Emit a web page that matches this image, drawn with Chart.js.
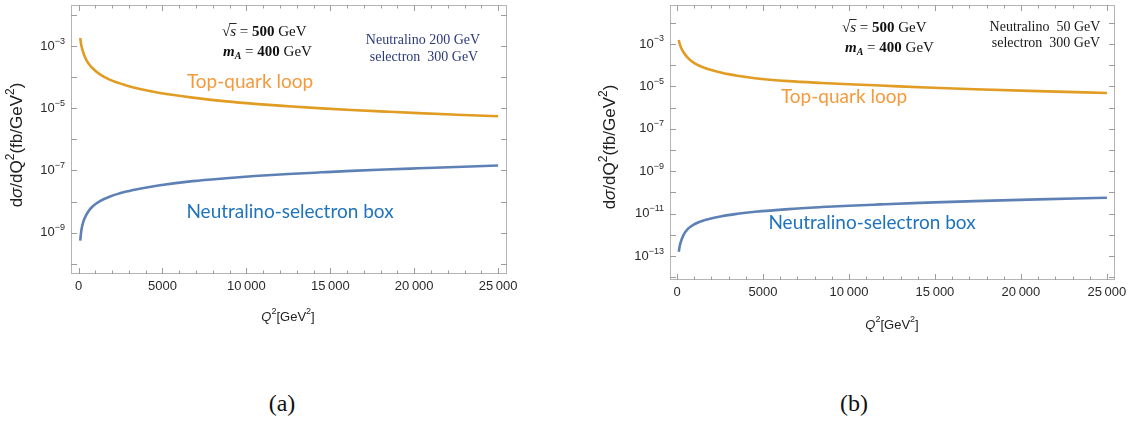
<!DOCTYPE html>
<html>
<head>
<meta charset="utf-8">
<script src="https://cdn.jsdelivr.net/npm/chart.js@4/dist/chart.umd.min.js"></script>
<style>
  body { margin: 0; background: #fff; width: 1137px; height: 421px; position: relative; overflow: hidden; }
  canvas { position: absolute; top: 0; }
  .cap { position: absolute; top: 390px; width: 60px; text-align: center; line-height: 28px;
         font: 24px "Liberation Serif", "Times New Roman", serif; color: #111; }
</style>
</head>
<body>
<canvas id="chartA" width="560" height="345" style="left:0"></canvas>
<canvas id="chartB" width="560" height="345" style="left:577px"></canvas>
<div class="cap" style="left:252px">(a)</div>
<div class="cap" style="left:824px">(b)</div>
<script>
// panel (a): neutralino 200 GeV, selectron 300 GeV
const q2A  = [100, 150, 200, 300, 460, 650, 850, 1300, 1850, 2850, 3800, 4850, 6800, 8800, 10500, 12500, 14500, 16250, 18250, 20250, 22500, 25000];
const topA = [1.82e-3, 1.17e-3, 8.7e-4, 5.75e-4, 3.6e-4, 2.5e-4, 1.9e-4, 1.2e-4, 8.3e-5, 5.4e-5, 4.0e-5, 3.1e-5, 2.2e-5, 1.66e-5, 1.38e-5, 1.16e-5, 9.9e-6, 8.8e-6, 7.8e-6, 6.95e-6, 6.2e-6, 5.5e-6];
const boxA = [5.5e-10, 1.0e-9, 1.48e-9, 2.4e-9, 3.7e-9, 5.4e-9, 7.1e-9, 1.05e-8, 1.43e-8, 2.09e-8, 2.69e-8, 3.35e-8, 4.52e-8, 5.62e-8, 6.6e-8, 7.67e-8, 8.7e-8, 9.66e-8, 1.07e-7, 1.17e-7, 1.29e-7, 1.45e-7];

// panel (b): neutralino 50 GeV, selectron 300 GeV
const q2B  = [100, 150, 200, 366, 657, 1000, 1628, 2599, 3500, 4535, 6471, 8413, 10000, 11800, 14500, 17300, 21000, 25000];
const topB = [1.55e-3, 1.05e-3, 7.9e-4, 4.2e-4, 2.1e-4, 1.26e-4, 7.4e-5, 4.4e-5, 3.2e-5, 2.45e-5, 1.78e-5, 1.45e-5, 1.26e-5, 1.1e-5, 8.9e-6, 7.4e-6, 6.0e-6, 4.9e-6];
const boxB = [1.58e-13, 2.8e-13, 4.2e-13, 9.5e-13, 2.0e-12, 3.16e-12, 5.0e-12, 7.6e-12, 9.8e-12, 1.22e-11, 1.64e-11, 2.04e-11, 2.37e-11, 2.72e-11, 3.3e-11, 3.9e-11, 4.7e-11, 5.6e-11];

// tick labels
const xTicks      = [0, 5000, 10000, 15000, 20000, 25000];
const xTickLabels = ['0', '5000', '10\u2009000', '15\u2009000', '20\u2009000', '25\u2009000'];
const yExpA = [-9, -7, -5, -3];
const yExpB = [-13, -11, -9, -7, -5, -3];

const SANS  = '"Liberation Sans", Arial, sans-serif';
const SERIF = '"Liberation Serif", "Times New Roman", serif';
const CAL   = 'Lato, "Open Sans", sans-serif';

// draw a run of text pieces with different fonts, baseline middle
function drawParts(ctx, parts, x, y, align, color) {
  let w = 0;
  parts.forEach(p => { ctx.font = p.f; p.w = ctx.measureText(p.t).width; w += p.w; });
  let cx = align === 'center' ? x - w / 2 : align === 'right' ? x - w : x;
  ctx.textBaseline = 'middle';
  ctx.textAlign = 'left';
  parts.forEach(p => {
    ctx.font = p.f;
    ctx.fillStyle = p.c || color;
    ctx.fillText(p.t, cx, y + (p.dy || 0));
    if (p.bar) {
      ctx.strokeStyle = p.c || color;
      ctx.lineWidth = 0.9;
      ctx.beginPath();
      ctx.moveTo(cx - 1, y - 8.5);
      ctx.lineTo(cx + p.w + 0.5, y - 8.5);
      ctx.stroke();
    }
    cx += p.w;
  });
}

function sqrtS(size) {
  return [
    { t: '\u221a', f: `${size}px ${SERIF}` },
    { t: 's', f: `italic ${size}px ${SERIF}`, bar: true },
    { t: ' = ', f: `${size}px ${SERIF}` },
    { t: '500', f: `bold ${size}px ${SERIF}` },
    { t: ' GeV', f: `${size}px ${SERIF}` },
  ];
}
function massA(size) {
  return [
    { t: 'm', f: `bold italic ${size}px ${SERIF}` },
    { t: 'A', f: `bold italic ${size - 5}px ${SERIF}`, dy: 4 },
    { t: ' = ', f: `${size}px ${SERIF}` },
    { t: '400', f: `bold ${size}px ${SERIF}` },
    { t: ' GeV', f: `${size}px ${SERIF}` },
  ];
}

function panelPlugin(o) {
  return {
    id: 'panel',
    afterDatasetsDraw(chart) {
      const { ctx, chartArea: a, scales: { x, y } } = chart;
      ctx.save();
      // frame
      ctx.strokeStyle = '#b5b5b5';
      ctx.lineWidth = 1;
      ctx.strokeRect(a.left + 0.5, a.top + 0.5, a.right - a.left - 1, a.bottom - a.top - 1);
      // inward ticks on all sides
      ctx.strokeStyle = '#9c9c9c';
      ctx.beginPath();
      for (let v = 0; v <= 25000; v += 1000) {
        const px = Math.round(x.getPixelForValue(v)) + 0.5;
        const len = v % 5000 === 0 ? 6 : 3.5;
        ctx.moveTo(px, a.bottom); ctx.lineTo(px, a.bottom - len);
        ctx.moveTo(px, a.top); ctx.lineTo(px, a.top + len);
      }
      for (let e = Math.ceil(o.yLo); e <= Math.floor(o.yHi); e++) {
        const py = Math.round(y.getPixelForValue(Math.pow(10, e))) + 0.5;
        ctx.moveTo(a.left, py); ctx.lineTo(a.left + 6, py);
        ctx.moveTo(a.right, py); ctx.lineTo(a.right - 6, py);
      }
      ctx.stroke();
      ctx.restore();
    },
    afterDraw(chart) {
      const { ctx, scales: { x, y } } = chart;
      const ox = o.left;
      ctx.save();
      // x tick labels
      xTicks.forEach((v, i) => {
        drawParts(ctx, [{ t: xTickLabels[i], f: `13px ${SANS}` }], x.getPixelForValue(v), o.xLabY, 'center', '#2a2a2a');
      });
      // y tick labels 10^n
      o.yExp.forEach(e => {
        const py = y.getPixelForValue(Math.pow(10, e));
        drawParts(ctx, [
          { t: '10', f: `13px ${SANS}` },
          { t: '\u2212' + Math.abs(e), f: `9px ${SANS}`, dy: -5 },
        ], o.yLabR - ox, py, 'right', '#2a2a2a');
      });
      // axis titles
      drawParts(ctx, [
        { t: 'Q', f: `italic 13px ${SANS}` },
        { t: '2', f: `9px ${SANS}`, dy: -5 },
        { t: '[GeV', f: `13px ${SANS}` },
        { t: '2', f: `9px ${SANS}`, dy: -5 },
        { t: ']', f: `13px ${SANS}` },
      ], o.xTitle[0] - ox, o.xTitle[1], 'center', '#222');
      ctx.save();
      ctx.translate(o.yTitle[0] - ox, o.yTitle[1]);
      ctx.rotate(-Math.PI / 2);
      drawParts(ctx, [
        { t: 'd', f: `17px ${SANS}` },
        { t: '\u03c3', f: `italic 17px ${SANS}` },
        { t: '/dQ', f: `17px ${SANS}` },
        { t: '2', f: `12px ${SANS}`, dy: -6 },
        { t: '(fb/GeV', f: `17px ${SANS}` },
        { t: '2', f: `12px ${SANS}`, dy: -6 },
        { t: ')', f: `17px ${SANS}` },
      ], 0, 0, 'center', '#222');
      ctx.restore();
      // annotations
      drawParts(ctx, sqrtS(15), o.sqrtS[0] - ox, o.sqrtS[1], 'left', '#111');
      drawParts(ctx, massA(15), o.mA[0] - ox, o.mA[1], 'left', '#111');
      o.info.forEach(r => {
        drawParts(ctx, [{ t: r.t, f: `14px ${SERIF}` }], r.x - ox, r.y, 'center', o.infoColor);
      });
      drawParts(ctx, [{ t: 'Top-quark loop', f: `19px ${CAL}` }], o.topLab[0] - ox, o.topLab[1], 'center', '#f59a3c');
      drawParts(ctx, [{ t: 'Neutralino-selectron box', f: `19px ${CAL}` }], o.boxLab[0] - ox, o.boxLab[1], 'center', '#1f73be');
      ctx.restore();
    }
  };
}

function makeChart(id, q2, top, box, o) {
  const pts = arr => q2.map((q, i) => ({ x: q, y: arr[i] }));
  return new Chart(document.getElementById(id), {
    type: 'line',
    data: {
      datasets: [
        { label: 'Top-quark loop', data: pts(top), borderColor: '#e19c24', borderWidth: 2.6,
          pointRadius: 0, cubicInterpolationMode: 'monotone' },
        { label: 'Neutralino-selectron box', data: pts(box), borderColor: '#5e81b5', borderWidth: 2.6,
          pointRadius: 0, cubicInterpolationMode: 'monotone' },
      ],
    },
    options: {
      responsive: false,
      animation: false,
      devicePixelRatio: 1,
      layout: { padding: o.pad },
      plugins: { legend: { display: false }, tooltip: { enabled: false } },
      scales: {
        x: { type: 'linear', min: o.xMin, max: o.xMax, display: false },
        y: { type: 'logarithmic', min: Math.pow(10, o.yLo), max: Math.pow(10, o.yHi), display: false },
      },
    },
    plugins: [panelPlugin(o)],
  });
}

makeChart('chartA', q2A, topA, boxA, {
  left: 0,
  pad: { left: 71, top: 5, right: 53, bottom: 71 },
  xMin: -450, xMax: 25530, yLo: -10.33, yHi: -1.68,
  yExp: yExpA, yLabR: 65, xLabY: 286,
  xTitle: [288, 317], yTitle: [17, 145],
  sqrtS: [222, 32], mA: [223, 52],
  info: [{ t: 'Neutralino 200 GeV', x: 423, y: 40 }, { t: 'selectron  300 GeV', x: 424, y: 57 }],
  infoColor: '#2b3a7a',
  topLab: [250, 82], boxLab: [290, 212],
});

makeChart('chartB', q2B, topB, boxB, {
  left: 577,
  pad: { left: 93, top: 5, right: 22, bottom: 65 },
  xMin: -410, xMax: 25470, yLo: -14.13, yHi: -1.16,
  yExp: yExpB, yLabR: 664, xLabY: 292,
  xTitle: [892, 325], yTitle: [610, 147],
  sqrtS: [842, 28], mA: [845, 48],
  info: [{ t: 'Neutralino  50 GeV', x: 1045, y: 27 }, { t: 'selectron  300 GeV', x: 1046, y: 43 }],
  infoColor: '#1a1a1a',
  topLab: [844, 97], boxLab: [872, 223],
});
</script>
</body>
</html>
